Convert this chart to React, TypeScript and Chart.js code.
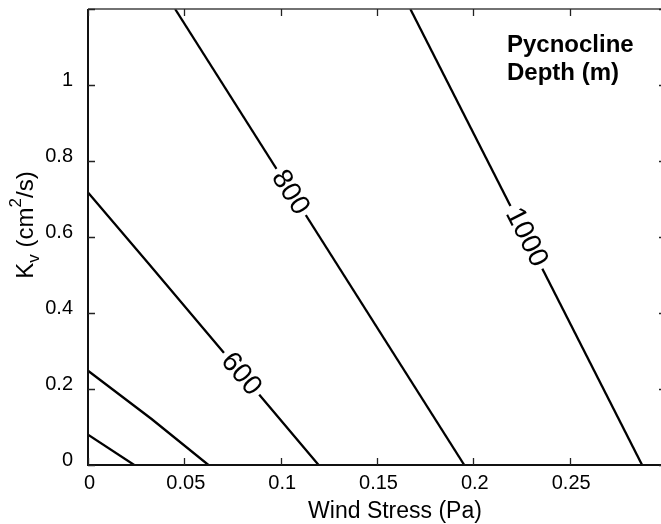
import { useEffect, useRef } from "react";
import { Chart, registerables } from "chart.js";

Chart.register(...registerables);

const FONT = "'Liberation Sans', Arial, Helvetica, sans-serif";

// Contour lines (wind stress in Pa, Kv in cm^2/s)
const windStress200 = [0, 0.024];
const kv200 = [0.08, 0];
const windStress400 = [0, 0.033, 0.0625];
const kv400 = [0.248, 0.121, 0];
const windStress600 = [0, 0.0313, 0.1197];
const kv600 = [0.717, 0.531, 0];
const windStress800 = [0.0452, 0.1953];
const kv800 = [1.2, 0];
const windStress1000 = [0.1673, 0.2876];
const kv1000 = [1.2, 0];

const contourLevels = [200, 400, 600, 800, 1000];
const contourX = [windStress200, windStress400, windStress600, windStress800, windStress1000];
const contourY = [kv200, kv400, kv600, kv800, kv1000];

// Inline contour labels
const labeledLevels = [600, 800, 1000];
const labelWindStress = [0.0798, 0.1053, 0.2279];
const labelKv = [0.2405, 0.718, 0.6];

// Axes
const xMin = 0;
const xMax = 0.3;
const xStep = 0.05;
const yMin = 0;
const yMax = 1.2;
const yStep = 0.2;

const xTitle = "Wind Stress (Pa)";
const yTitleParts = [
  { text: "K", kind: "normal" },
  { text: "v", kind: "sub" },
  { text: " (cm", kind: "normal" },
  { text: "2", kind: "sup" },
  { text: "/s)", kind: "normal" },
];
const annotationLines = ["Pycnocline", "Depth (m)"];

function fmt(v: number) {
  return String(Number(v.toFixed(3)));
}

const decorPlugin = {
  id: "decor",
  afterDatasetsDraw(chart: any) {
    const ctx = chart.ctx as CanvasRenderingContext2D;
    const xs = chart.scales.x;
    const ys = chart.scales.y;
    labeledLevels.forEach((lvl, i) => {
      const di = contourLevels.indexOf(lvl);
      const pts = chart.data.datasets[di].data as { x: number; y: number }[];
      const lx = labelWindStress[i];
      const ly = labelKv[i];
      let a = pts[0];
      let b = pts[pts.length - 1];
      for (let k = 0; k < pts.length - 1; k++) {
        const p = pts[k];
        const q = pts[k + 1];
        if (lx >= Math.min(p.x, q.x) && lx <= Math.max(p.x, q.x)) {
          a = p;
          b = q;
          break;
        }
      }
      const ax = xs.getPixelForValue(a.x);
      const ay = ys.getPixelForValue(a.y);
      const bx = xs.getPixelForValue(b.x);
      const by = ys.getPixelForValue(b.y);
      const ang = Math.atan2(by - ay, bx - ax);
      const px = xs.getPixelForValue(lx);
      const py = ys.getPixelForValue(ly);
      ctx.save();
      ctx.translate(px, py);
      ctx.rotate(ang);
      ctx.font = `28px ${FONT}`;
      const text = String(lvl);
      const w = ctx.measureText(text).width;
      ctx.fillStyle = "#fff";
      ctx.fillRect(-w / 2 - 4, -7, w + 8, 14);
      ctx.fillStyle = "#000";
      ctx.textAlign = "center";
      ctx.textBaseline = "middle";
      ctx.fillText(text, 0, 1);
      ctx.restore();
    });
  },
  afterDraw(chart: any) {
    const ctx = chart.ctx as CanvasRenderingContext2D;
    const { left, right, top, bottom } = chart.chartArea;
    const xs = chart.scales.x;
    const ys = chart.scales.y;
    ctx.save();
    // frame
    ctx.strokeStyle = "#444";
    ctx.lineWidth = 1.5;
    ctx.beginPath();
    ctx.moveTo(left, top);
    ctx.lineTo(right, top);
    ctx.lineTo(right, bottom);
    ctx.stroke();
    ctx.strokeStyle = "#111";
    ctx.lineWidth = 2;
    ctx.beginPath();
    ctx.moveTo(left, top);
    ctx.lineTo(left, bottom);
    ctx.lineTo(right, bottom);
    ctx.stroke();
    // inward ticks
    ctx.strokeStyle = "#222";
    ctx.lineWidth = 1.3;
    const tl = 7;
    ctx.beginPath();
    xs.ticks.forEach((t: any) => {
      const x = Math.round(xs.getPixelForValue(t.value)) + 0.5;
      ctx.moveTo(x, bottom);
      ctx.lineTo(x, bottom - tl);
      ctx.moveTo(x, top);
      ctx.lineTo(x, top + tl);
    });
    ys.ticks.forEach((t: any) => {
      const y = Math.round(ys.getPixelForValue(t.value)) + 0.5;
      ctx.moveTo(left, y);
      ctx.lineTo(left + tl, y);
      ctx.moveTo(right, y);
      ctx.lineTo(right - tl, y);
    });
    ctx.stroke();

    // x title
    ctx.fillStyle = "#000";
    ctx.font = `23px ${FONT}`;
    ctx.textAlign = "center";
    ctx.textBaseline = "alphabetic";
    ctx.fillText(xTitle, left + 307, bottom + 53);

    // y title (rotated, with sub/superscript)
    const main = 24;
    const small = 17;
    let total = 0;
    const widths = yTitleParts.map((p) => {
      ctx.font = `${p.kind === "normal" ? main : small}px ${FONT}`;
      const w = ctx.measureText(p.text).width;
      total += w;
      return w;
    });
    ctx.save();
    ctx.translate(left - 55, top + 216 + total / 2);
    ctx.rotate(-Math.PI / 2);
    ctx.textAlign = "left";
    let u = 0;
    yTitleParts.forEach((p, i) => {
      ctx.font = `${p.kind === "normal" ? main : small}px ${FONT}`;
      const dv = p.kind === "sub" ? 6 : p.kind === "sup" ? -12 : 0;
      ctx.fillText(p.text, u, dv);
      u += widths[i];
    });
    ctx.restore();

    // annotation
    ctx.font = `bold 24px ${FONT}`;
    ctx.textAlign = "left";
    annotationLines.forEach((line, i) => {
      ctx.fillText(line, left + 419, top + 43 + i * 28);
    });
    ctx.restore();
  },
};

export default function App() {
  const ref = useRef<HTMLCanvasElement | null>(null);
  useEffect(() => {
    if (!ref.current) return;
    Chart.defaults.font.family = FONT;
    const datasets = contourLevels.map((lvl, i) => ({
      label: String(lvl),
      data: contourX[i].map((x, k) => ({ x, y: contourY[i][k] })),
      borderColor: "#000",
      borderWidth: 2.3,
      pointRadius: 0,
      showLine: true,
      tension: 0,
      fill: false,
    }));
    const chart = new Chart(ref.current, {
      type: "line",
      data: { datasets },
      options: {
        animation: false,
        responsive: false,
        events: [],
        layout: { padding: { top: 9, right: 14, left: 0, bottom: 0 } },
        plugins: { legend: { display: false }, tooltip: { enabled: false } },
        scales: {
          x: {
            type: "linear",
            min: xMin,
            max: xMax,
            grid: { display: false, drawTicks: false },
            border: { display: false },
            ticks: {
              stepSize: xStep,
              color: "#000",
              font: { size: 20, family: FONT },
              padding: 6,
              labelOffset: 1.5,
              maxRotation: 0,
              callback: (v: any) => (Math.abs(Number(v) - xMax) < 1e-9 ? "" : fmt(Number(v))),
            },
            afterFit: (s: any) => {
              s.height = 59;
              s.paddingLeft = 0;
              s.paddingRight = 0;
            },
          },
          y: {
            type: "linear",
            min: yMin,
            max: yMax,
            grid: { display: false, drawTicks: false },
            border: { display: false },
            ticks: {
              stepSize: yStep,
              color: "#000",
              font: { size: 20, family: FONT },
              padding: 15,
              labelOffset: -4.5,
              callback: (v: any) => (Math.abs(Number(v) - yMax) < 1e-9 ? "" : fmt(Number(v))),
            },
            afterFit: (s: any) => {
              s.width = 88;
              s.paddingTop = 0;
              s.paddingBottom = 0;
            },
          },
        },
      },
      plugins: [decorPlugin],
    });
    return () => chart.destroy();
  }, []);
  return (
    <div
      style={{
        position: "fixed",
        left: 0,
        top: 0,
        width: 661,
        height: 524,
        overflow: "hidden",
        background: "#fff",
      }}
    >
      <canvas ref={ref} width={680} height={524} style={{ width: 680, height: 524, display: "block" }} />
    </div>
  );
}
